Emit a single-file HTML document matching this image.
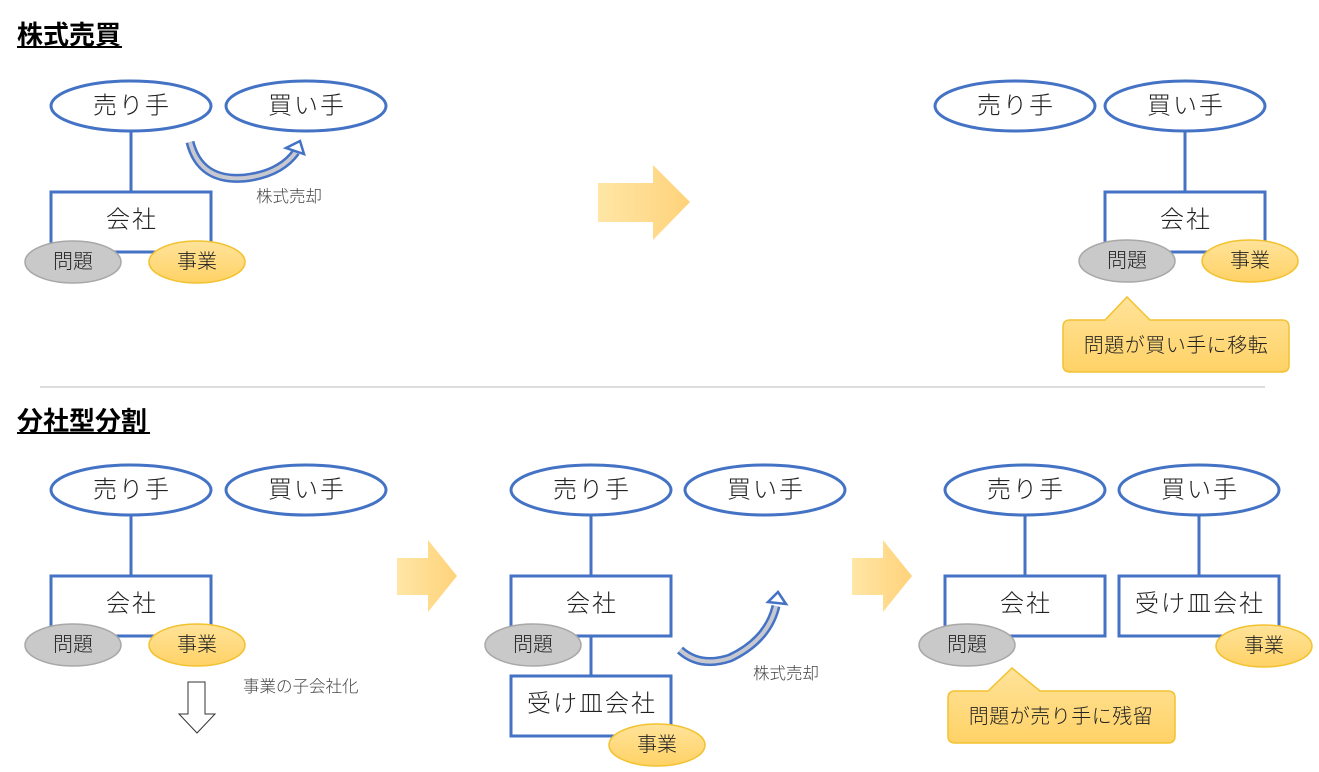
<!DOCTYPE html>
<html><head><meta charset="utf-8"><style>
html,body{margin:0;padding:0;background:#fff;}
svg{display:block;}
text{font-family:"Liberation Sans","Noto Sans CJK JP",sans-serif;fill:#222;}
.t{font-size:24px;text-anchor:middle;dominant-baseline:central;letter-spacing:2px;font-weight:300;}
.s{font-size:20px;text-anchor:middle;dominant-baseline:central;font-weight:300;}
.l{font-size:16.5px;fill:#444;font-weight:300;}
.h{font-size:26px;font-weight:bold;fill:#000;}
</style></head><body>
<svg width="1319" height="772" viewBox="0 0 1319 772" xmlns="http://www.w3.org/2000/svg">
<defs>
<linearGradient id="og" x1="0" y1="0" x2="0" y2="1"><stop offset="0" stop-color="#ffe39a"/><stop offset="1" stop-color="#ffd266"/></linearGradient>
<linearGradient id="ag" x1="0" y1="0" x2="1" y2="0"><stop offset="0" stop-color="#ffe6a6"/><stop offset="1" stop-color="#ffd27a"/></linearGradient>
<g id="gray"><ellipse rx="48" ry="21" fill="#c9c9c9" stroke="#a8a8a8" stroke-width="1.5"/><text class="s">問題</text></g>
<g id="orng"><ellipse rx="48" ry="21" fill="url(#og)" stroke="#f2c230" stroke-width="1.5"/><text class="s">事業</text></g>
</defs>
<g fill="none" stroke="#4472c4" stroke-width="3">
<line x1="131" y1="131" x2="131" y2="192"/>
<rect x="51" y="192" width="160" height="60" fill="#fff"/>
<line x1="1185" y1="131" x2="1185" y2="192"/>
<rect x="1105" y="192" width="160" height="60" fill="#fff"/>
<line x1="131" y1="515" x2="131" y2="576"/>
<rect x="51" y="576" width="160" height="60" fill="#fff"/>
<line x1="591" y1="515" x2="591" y2="676"/>
<rect x="511" y="576" width="160" height="60" fill="#fff"/>
<rect x="511" y="676" width="160" height="60" fill="#fff"/>
<line x1="1025" y1="515" x2="1025" y2="576"/>
<line x1="1199" y1="515" x2="1199" y2="576"/>
<rect x="945" y="576" width="160" height="60" fill="#fff"/>
<rect x="1119" y="576" width="160" height="60" fill="#fff"/>
</g>
<g fill="#fff" stroke="#4472c4" stroke-width="3">
<ellipse cx="131" cy="106" rx="80" ry="25"/><ellipse cx="306" cy="106" rx="80" ry="25"/>
<ellipse cx="1015" cy="106" rx="80" ry="25"/><ellipse cx="1185" cy="106" rx="80" ry="25"/>
<ellipse cx="131" cy="490" rx="80" ry="25"/><ellipse cx="306" cy="490" rx="80" ry="25"/>
<ellipse cx="591" cy="490" rx="80" ry="25"/><ellipse cx="765" cy="490" rx="80" ry="25"/>
<ellipse cx="1025" cy="490" rx="80" ry="25"/><ellipse cx="1199" cy="490" rx="80" ry="25"/>
</g>
<g>
<text class="t" x="132" y="106">売り手</text><text class="t" x="307" y="106">買い手</text>
<text class="t" x="1016" y="106">売り手</text><text class="t" x="1186" y="106">買い手</text>
<text class="t" x="132" y="490">売り手</text><text class="t" x="307" y="490">買い手</text>
<text class="t" x="592" y="490">売り手</text><text class="t" x="766" y="490">買い手</text>
<text class="t" x="1026" y="490">売り手</text><text class="t" x="1200" y="490">買い手</text>
<text class="t" x="132" y="220">会社</text><text class="t" x="1186" y="220">会社</text>
<text class="t" x="132" y="604">会社</text><text class="t" x="592" y="604">会社</text>
<text class="t" x="592" y="704">受け皿会社</text>
<text class="t" x="1026" y="604">会社</text><text class="t" x="1200" y="604">受け皿会社</text>
</g>
<use href="#gray" x="73" y="262"/><use href="#orng" x="197" y="262"/>
<use href="#gray" x="1127" y="261"/><use href="#orng" x="1250" y="261"/>
<use href="#gray" x="73" y="645"/><use href="#orng" x="197" y="645"/>
<use href="#gray" x="533" y="645"/><use href="#orng" x="657" y="745"/>
<use href="#gray" x="967" y="645"/><use href="#orng" x="1264" y="646"/>
<text class="h" x="17" y="44">株式売買</text><line x1="17" y1="47" x2="122" y2="47" stroke="#000" stroke-width="2"/>
<text class="h" x="17" y="430">分社型分割</text><line x1="17" y1="433" x2="150" y2="433" stroke="#000" stroke-width="2"/>
<line x1="40" y1="387" x2="1265" y2="387" stroke="#bbb" stroke-width="1"/>
<g fill="none" stroke-linecap="butt">
<path d="M190 142 Q200 182 245 178 Q280 174 296 152" stroke="#4472c4" stroke-width="9"/>
<path d="M190 142 Q200 182 245 178 Q280 174 296 152" stroke="#c8c8d0" stroke-width="4"/>
<path d="M680 650 Q700 668 730 658 Q768 640 776 606" stroke="#4472c4" stroke-width="9"/>
<path d="M680 650 Q700 668 730 658 Q768 640 776 606" stroke="#c8c8d0" stroke-width="4"/>
</g>
<polygon points="286,148 300,141 304,154" fill="#fff" stroke="#4472c4" stroke-width="2.5"/>
<polygon points="768,602 778,592 786,604" fill="#fff" stroke="#4472c4" stroke-width="2.5"/>
<text class="l" x="256" y="202">株式売却</text>
<text class="l" x="753" y="679">株式売却</text>
<text class="l" x="243" y="692">事業の子会社化</text>
<polygon points="598,183 653,183 653,165 690,202 653,240 653,222 598,222" fill="url(#ag)"/>
<polygon points="397,558 428,558 428,540 457,576 428,612 428,595 397,595" fill="url(#ag)"/>
<polygon points="852,558 883,558 883,540 912,576 883,612 883,595 852,595" fill="url(#ag)"/>
<polygon points="188,682 205,682 205,714 215,714 197,733 179,714 188,714" fill="#fff" stroke="#333" stroke-width="1"/>
<path d="M1070 320 L1105 320 L1127 297 L1150 320 L1282 320 Q1289 320 1289 327 L1289 365 Q1289 372 1282 372 L1070 372 Q1063 372 1063 365 L1063 327 Q1063 320 1070 320 Z" fill="url(#og)" stroke="#f2c230" stroke-width="1.5"/>
<text class="s" x="1176" y="346" style="letter-spacing:0.5px">問題が買い手に移転</text>
<path d="M955 691 L988 691 L1012 668 L1040 691 L1168 691 Q1175 691 1175 698 L1175 736 Q1175 743 1168 743 L955 743 Q948 743 948 736 L948 698 Q948 691 955 691 Z" fill="url(#og)" stroke="#f2c230" stroke-width="1.5"/>
<text class="s" x="1061" y="717" style="letter-spacing:0.5px">問題が売り手に残留</text>
</svg>
</body></html>
